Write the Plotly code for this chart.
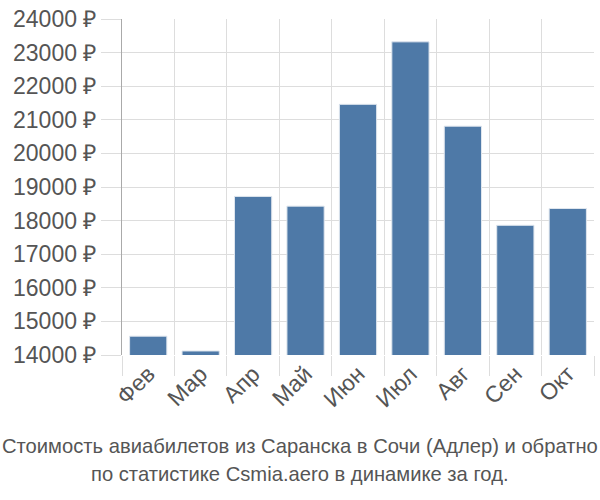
import plotly.graph_objects as go

months = ["Фев", "Мар", "Апр", "Май", "Июн", "Июл", "Авг", "Сен", "Окт"]
prices = [14560, 14120, 18720, 18430, 21460, 23320, 20810, 17860, 18360]
y_ticks = list(range(14000, 24001, 1000))
y_labels = [f"{v} ₽" for v in y_ticks]
title_lines = ["Стоимость авиабилетов из Саранска в Сочи (Адлер) и обратно",
               "по статистике Csmia.aero в динамике за год."]

fig = go.Figure(go.Bar(
    x=months, y=prices,
    marker=dict(color="#4e79a7", line=dict(color="#dfe6ee", width=1)),
))

font_family = "Liberation Sans, Arial, sans-serif"
plot_left, plot_right = 122, 594
plot_top, plot_bottom = 14, 355
title_y_px = [447, 476]
annotations = [
    dict(text=t, x=(300 - plot_left) / (plot_right - plot_left), xref="paper", xanchor="center",
         y=(plot_bottom - yp) / (plot_bottom - plot_top), yref="paper", yanchor="middle",
         showarrow=False, font=dict(family=font_family, size=20.2, color="#555555"))
    for t, yp in zip(title_lines, title_y_px)
]

fig.update_layout(
    width=600, height=500,
    margin=dict(l=plot_left, r=600 - plot_right, t=plot_top, b=500 - plot_bottom),
    paper_bgcolor="white", plot_bgcolor="white",
    bargap=0.29,
    showlegend=False,
    font=dict(family=font_family, color="#555555", size=22),
    annotations=annotations,
)
fig.update_xaxes(
    type="category", tickson="boundaries",
    showgrid=True, gridcolor="#dddddd", gridwidth=1,
    ticks="outside", ticklen=20, tickcolor="#dddddd",
    tickangle=-45, tickfont=dict(size=23, color="#555555"),
    showline=False, zeroline=False,
)
fig.update_yaxes(
    range=[14000, 24000],
    tickvals=y_ticks, ticktext=y_labels,
    showgrid=True, gridcolor="#dddddd", gridwidth=1,
    ticks="outside", ticklen=20, tickcolor="#dddddd",
    tickfont=dict(size=23, color="#555555"),
    showline=True, linecolor="#aaaaaa", linewidth=1,
    zeroline=False,
)

fig.write_html("out.html")
